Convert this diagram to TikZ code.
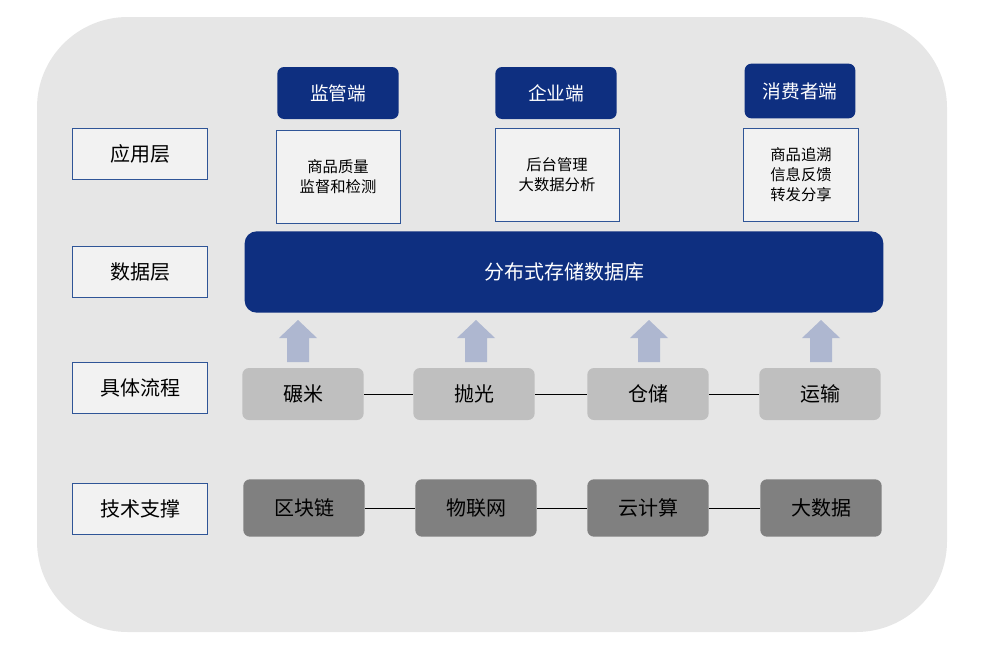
\documentclass[tikz,border=0pt]{standalone}
\usepackage{fontspec}
\setmainfont{Noto Sans CJK SC}
\usetikzlibrary{positioning}
\definecolor{navy}{HTML}{0E2F80}
\definecolor{edgeblue}{HTML}{2F5597}
\definecolor{bggray}{HTML}{E6E6E6}
\definecolor{boxgray}{HTML}{F2F2F2}
\definecolor{stepgray}{HTML}{BFBFBF}
\definecolor{techgray}{HTML}{808080}
\definecolor{arrowblue}{HTML}{AEB7D0}
\tikzset{
layer/.style={draw=edgeblue,fill=boxgray,minimum width=101pt,minimum height=38pt,font=\fontsize{15}{18}\selectfont},
head/.style={fill=navy,text=white,rounded corners=5pt,minimum width=91pt,minimum height=39pt,font=\fontsize{14}{17}\selectfont},
info/.style={draw=edgeblue,fill=boxgray,minimum width=93pt,minimum height=70pt,align=center,font=\fontsize{11.5}{15}\selectfont},
step/.style={fill=#1,rounded corners=5pt,minimum width=91pt,minimum height=39pt,font=\fontsize{15}{18}\selectfont},
link/.style={draw=black,line width=0.6pt}
}
\begin{document}
\begin{tikzpicture}[x=0.75pt,y=-0.75pt]
\useasboundingbox (0,0) rectangle (992,650);
\fill[bggray,rounded corners=68pt] (37,17) rectangle (947,632);
% layer labels
\node[layer] (app) at (140,154) {应用层};
\node[layer] (data) at (140,272) {数据层};
\node[layer] (flow) at (140,388) {具体流程};
\node[layer] (tech) at (140,509) {技术支撑};
% application side
\node[head] (gov) at (338,93) {监管端};
\node[head] (ent) at (556,93) {企业端};
\node[head,minimum width=83pt,minimum height=41pt] (con) at (800,91) {消费者端};
\node[info] (govinfo) at (338,177) {商品质量\\监督和检测};
\node[info] (entinfo) at (557,175) {后台管理\\大数据分析};
\node[info,minimum width=86pt] (coninfo) at (801,175) {商品追溯\\信息反馈\\转发分享};
% database
\node[fill=navy,text=white,rounded corners=9pt,minimum width=479pt,minimum height=61pt,font=\fontsize{15}{18}\selectfont] (db) at (564,272) {分布式存储数据库};
% process steps
\node[step=stepgray] (s1) at (303,394) {碾米};
\node[step=stepgray] (s2) at (474,394) {抛光};
\node[step=stepgray] (s3) at (648,394) {仓储};
\node[step=stepgray] (s4) at (820,394) {运输};
\draw[link] (s1) -- (s2) (s2) -- (s3) (s3) -- (s4);
% technology
\node[step=techgray,minimum height=43pt] (t1) at (304,508) {区块链};
\node[step=techgray,minimum height=43pt] (t2) at (476,508) {物联网};
\node[step=techgray,minimum height=43pt] (t3) at (648,508) {云计算};
\node[step=techgray,minimum height=43pt] (t4) at (821,508) {大数据};
\draw[link] (t1) -- (t2) (t2) -- (t3) (t3) -- (t4);
% upward arrows
\foreach \x in {298,476,649,821}
  \fill[arrowblue] (\x-11,362) -- (\x-11,338) -- (\x-19,338) -- (\x,320) -- (\x+19,338) -- (\x+11,338) -- (\x+11,362) -- cycle;
\end{tikzpicture}
\end{document}
